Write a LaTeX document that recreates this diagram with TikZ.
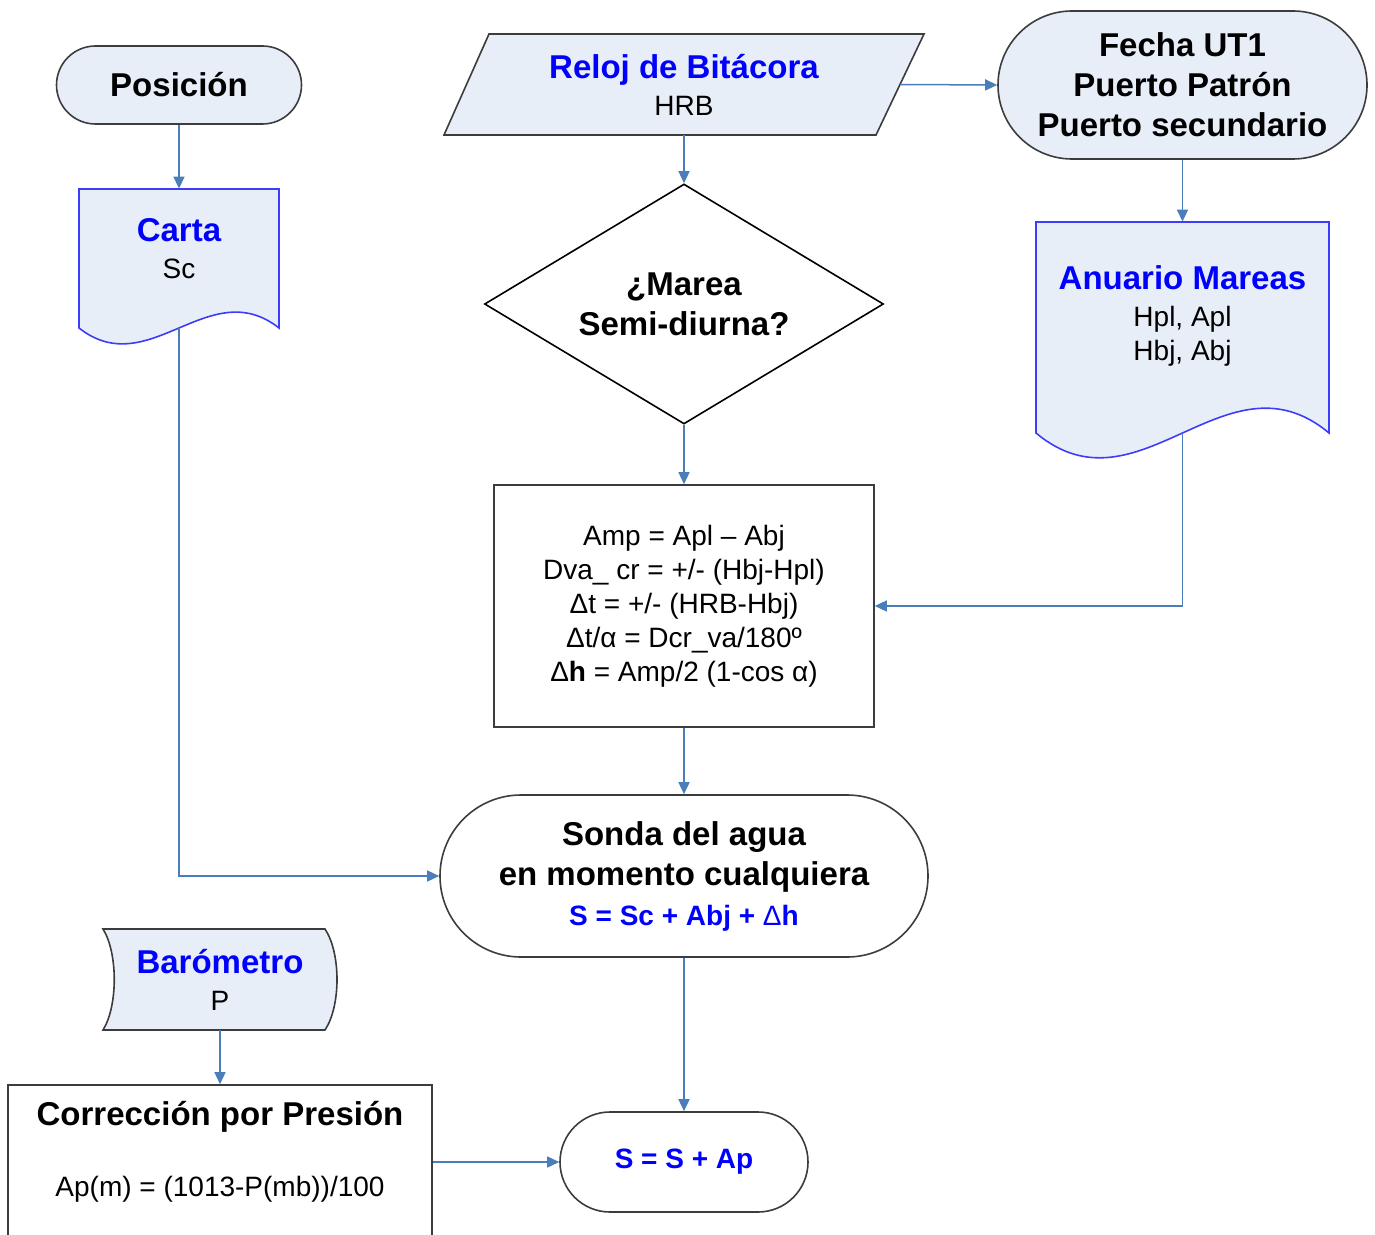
\documentclass[tikz,border=0pt]{standalone}
\usepackage{fontspec}
\setmainfont{Liberation Sans}
\usetikzlibrary{shapes.misc,shapes.geometric,arrows.meta}

\definecolor{shapefill}{RGB}{232,238,248}
\definecolor{flowblue}{RGB}{74,126,187}
\definecolor{titleblue}{RGB}{0,0,255}
\definecolor{docline}{RGB}{60,60,250}
\definecolor{edgegray}{RGB}{60,60,60}

\newcommand{\flowtitle}{\fontsize{16.5}{20}\selectfont\bfseries}
\newcommand{\flowbody}{\fontsize{14}{17}\selectfont}
\newcommand{\flowhead}[1]{{\flowtitle\color{titleblue}#1}}

\tikzset{
  flow/.style={draw=flowblue, line width=0.75pt, -{Triangle[length=6pt,width=5.5pt]}},
  terminal/.style={rounded rectangle, draw=edgegray, line width=0.8pt, inner sep=0pt, align=center, font=\flowtitle},
  procbox/.style={rectangle, draw=edgegray, line width=0.8pt, inner sep=0pt, align=center, font=\flowbody},
  decision/.style={diamond, draw=black, line width=0.8pt, inner sep=0pt, aspect=1.66, align=center, font=\flowtitle},
  frame/.style={rectangle, inner sep=0pt, align=center, font=\flowbody},
  datashape/.style={fill=shapefill, draw=edgegray, line width=0.8pt},
  docshape/.style={fill=shapefill, draw=docline, line width=0.8pt},
}

\begin{document}
\begin{tikzpicture}[x=0.5pt, y=-0.5pt]
  \useasboundingbox (0,0) rectangle (1375,1235);
  \clip (0,0) rectangle (1375,1235);

  % Shape outlines
  \draw[datashape] (489,34) -- (924,34) -- (876,135) -- (444,135) -- cycle;
  \draw[docshape] (79,189) -- (279,189) -- (279,328) .. controls (209,273) and (149,383) .. (79,328) -- cycle;
  \draw[docshape] (1036,222) -- (1329,222) -- (1329,433) .. controls (1226,347) and (1139,519) .. (1036,433) -- cycle;
  \draw[datashape] (103,929) -- (325,929) .. controls (341,953) and (341,1006) .. (325,1030) -- (103,1030) .. controls (118,1006) and (118,953) .. (103,929) -- cycle;

  % Inputs
  \node[terminal, fill=shapefill, minimum width=122.5pt, minimum height=39pt] (posicion) at (179,85) {Posición};
  \node[frame, minimum width=240pt, minimum height=50.5pt] (reloj) at (684,84.5) {\flowhead{Reloj de Bitácora}\\[1.5pt] HRB};
  \node[terminal, fill=shapefill, minimum width=184.5pt, minimum height=74pt] (fecha) at (1182.5,85) {Fecha UT1\\Puerto Patrón\\Puerto secundario};
  \node[frame, minimum width=100pt, minimum height=69.5pt] (carta) at (179,258.5) {};
  \node[frame] (cartatext) at (179,249) {\flowhead{Carta}\\[1.5pt] Sc};
  \node[frame, minimum width=146.5pt, minimum height=105.5pt] (anuario) at (1182.5,327.5) {};
  \node[frame] (anuariotext) at (1182.5,316) {\flowhead{Anuario Mareas}\\[1.5pt] Hpl, Apl\\Hbj, Abj};
  \node[frame, minimum width=117pt, minimum height=50.5pt] (baro) at (220,979.5) {\flowhead{Barómetro}\\[1.5pt] P};

  % Decision and calculation
  \node[decision, minimum width=199.5pt, minimum height=120pt] (marea) at (684,304) {¿Marea\\Semi-diurna?};
  \node[procbox, minimum width=190pt, minimum height=121pt] (calculo) at (684,606) {Amp = Apl – Abj\\Dva\_ cr = +/- (Hbj-Hpl)\\Δt = +/- (HRB-Hbj)\\Δt/α = Dcr\_va/180º\\Δ\textbf{h} = Amp/2 (1-cos α)};
  \node[terminal, minimum width=244pt, minimum height=81pt] (sonda) at (684,876) {Sonda del agua\\en momento cualquiera\\{\color{titleblue}\fontsize{14}{17}\selectfont S = Sc + Abj + {\mdseries Δ}h}};

  % Pressure correction
  \node[procbox, minimum width=212pt, minimum height=77pt] (corr) at (220,1162) {};
  \node[font=\flowtitle] (corrtitle) at (220,1117) {Corrección por Presión};
  \node[font=\flowbody] (corrformula) at (220,1189) {Ap(m) = (1013-P(mb))/100};
  \node[terminal, minimum width=124pt, minimum height=50pt, text=titleblue, font=\fontsize{14}{17}\selectfont\bfseries] (suma) at (684,1162) {S = S + Ap};

  % Connectors
  \draw[flow] (posicion.south) -- (carta.north);
  \draw[flow] (reloj.south) -- (marea.north);
  \draw[flow] ([xshift=-12pt]reloj.east) -- (fecha.west);
  \draw[flow] (fecha.south) -- (anuario.north);
  \draw[flow] (marea.south) -- (calculo.north);
  \draw[flow] (anuario.south) |- (calculo.east);
  \draw[flow] (calculo.south) -- (sonda.north);
  \draw[flow] (carta.south) |- (sonda.west);
  \draw[flow] (sonda.south) -- (suma.north);
  \draw[flow] (baro.south) -- (corr.north);
  \draw[flow] (corr.east) -- (suma.west);
\end{tikzpicture}
\end{document}
